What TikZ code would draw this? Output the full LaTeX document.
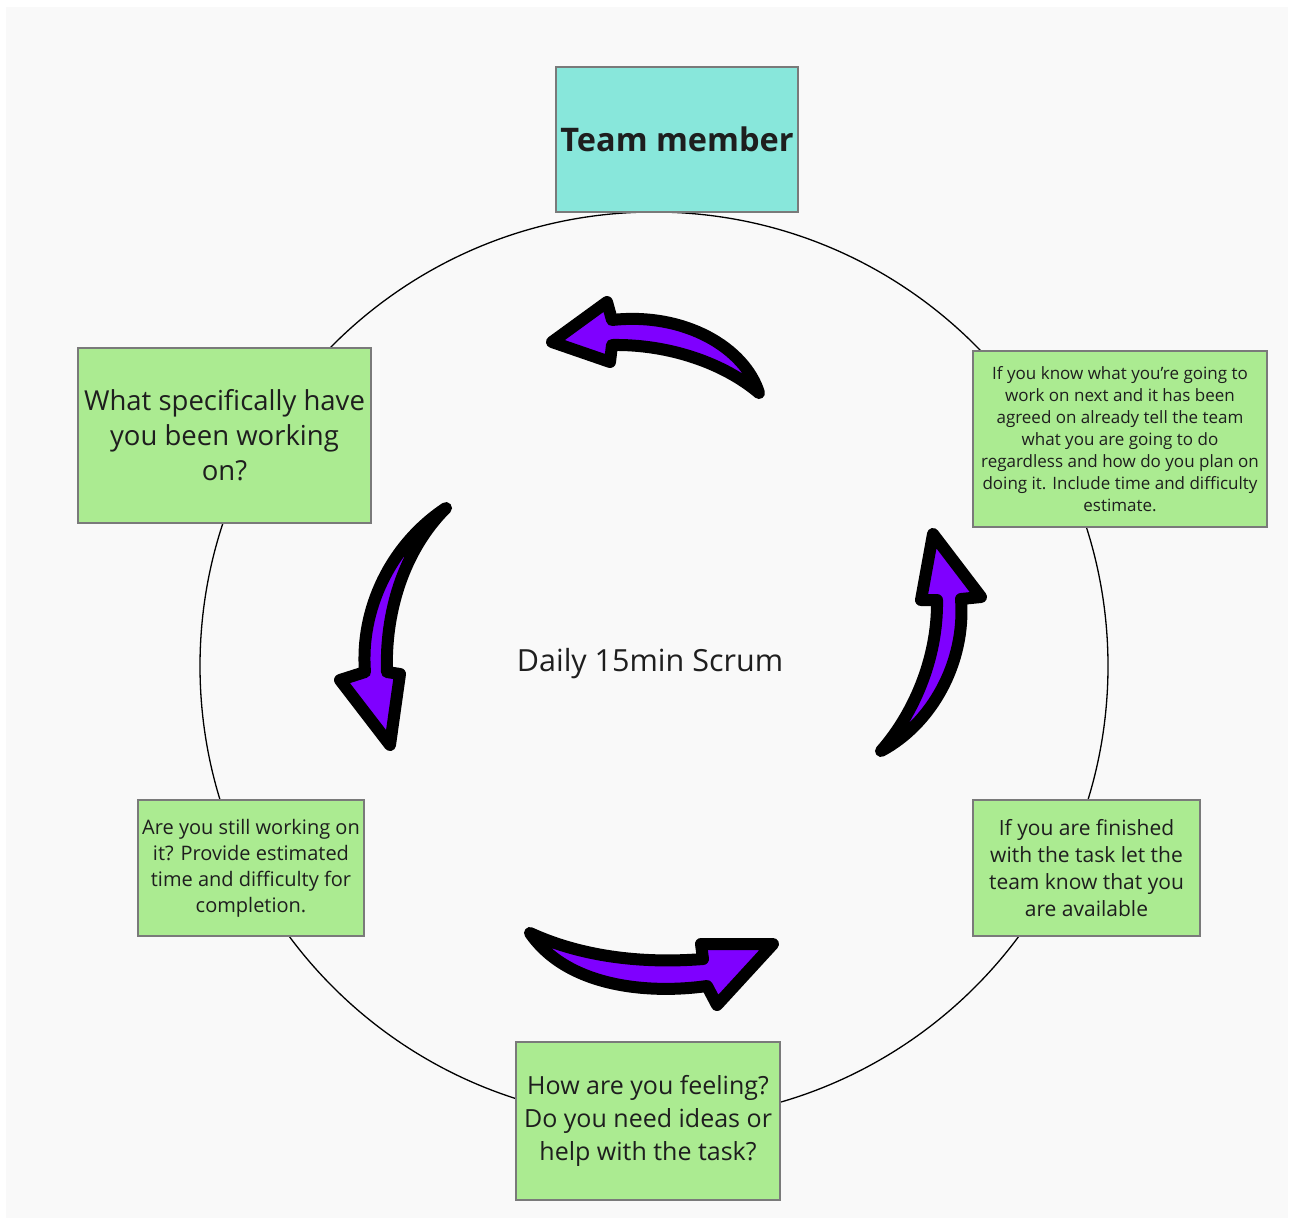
\documentclass[tikz,border=0pt]{standalone}
\usepackage{fontspec}
\setmainfont{Open Sans}
\definecolor{bgray}{HTML}{F9F9F9}
\definecolor{boxgreen}{HTML}{ABEB91}
\definecolor{boxteal}{HTML}{88E7DB}
\definecolor{boxedge}{HTML}{7A7A7A}
\definecolor{arrowpurple}{HTML}{7F00FF}
\definecolor{txt}{HTML}{1E1E1E}
\begin{document}
\begin{tikzpicture}[x=1pt,y=-1pt,
  qbox/.style={draw=boxedge,line width=1.2pt,fill=boxgreen,inner sep=0pt,align=center,text=txt},
  bigarrow/.style={draw=black,line width=12pt,line join=round,fill=arrowpurple}]
\useasboundingbox (0,0) rectangle (1290,1221);
\fill[bgray] (6,7) rectangle (1288,1218);
\draw[line width=1.3pt] (654,666) circle[radius=454];
% boxes
\node[qbox,fill=boxteal,minimum width=242pt,minimum height=145pt,font=\bfseries\fontsize{32.5}{36}\selectfont] (team) at (677,139.5) {Team member};
\node[qbox,minimum width=293pt,minimum height=175pt,font=\fontsize{27.5}{35}\selectfont] (what) at (224.5,435.5) {What specifically have\\you been working\\on?};
\node[qbox,minimum width=294pt,minimum height=176pt,font=\fontsize{17}{22}\selectfont] (next) at (1120,439) {If you know what you're going to\\work on next and it has been\\agreed on already tell the team\\what you are going to do\\regardless and how do you plan on\\doing it. Include time and difficulty\\estimate.};
\node[qbox,minimum width=226pt,minimum height=136pt,font=\fontsize{20}{26}\selectfont] (still) at (251,868) {Are you still working on\\it? Provide estimated\\time and difficulty for\\completion.};
\node[qbox,minimum width=227pt,minimum height=136pt,font=\fontsize{21}{27}\selectfont] (done) at (1086.5,868) {If you are finished\\with the task let the\\team know that you\\are available};
\node[qbox,minimum width=264pt,minimum height=158pt,font=\fontsize{25}{33}\selectfont] (feel) at (648,1121) {How are you feeling?\\Do you need ideas or\\help with the task?};
\node[text=txt,font=\fontsize{30.5}{34}\selectfont] (center) at (650,664) {Daily 15min Scrum};
% arrows
\draw[bigarrow] (552,342) -- (607,302) -- (612,320)
  .. controls (685,312) and (745,348) .. (759,393)
  .. controls (725,364) and (670,344) .. (612,345)
  -- (610,362) -- cycle;
\draw[bigarrow] (933,534) -- (981,597) -- (961,599)
  .. controls (966,662) and (932,724) .. (881,751)
  .. controls (912,716) and (938,660) .. (937,600)
  -- (921,600) -- cycle;
\draw[bigarrow] (446,508) .. controls (390,545) and (360,610) .. (365,672)
  -- (340,680) -- (390,745) -- (400,674) -- (387,672)
  .. controls (385,615) and (402,552) .. cycle;
\draw[bigarrow] (530,933) .. controls (568,988) and (650,994) .. (707,986)
  -- (717,1005) -- (773,944) -- (701,944) -- (703,959)
  .. controls (640,964) and (580,956) .. cycle;
\end{tikzpicture}
\end{document}
